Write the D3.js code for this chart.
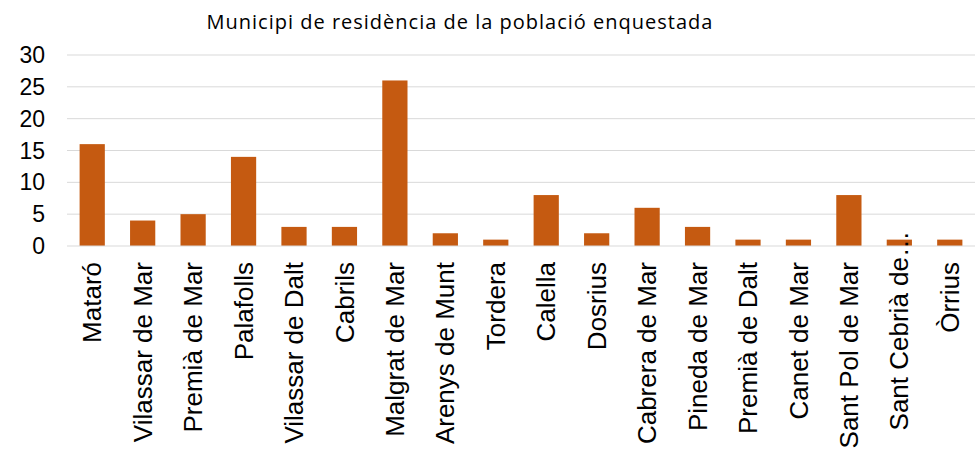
<!DOCTYPE html>
<html>
<head>
<meta charset="utf-8">
<script src="https://cdn.jsdelivr.net/npm/d3@7"></script>
<style>
  body { margin: 0; background: #fff; }
  svg { display: block; }
</style>
</head>
<body>
<div id="chart"></div>
<script>
const municipis = [
    "Mataró", "Vilassar de Mar", "Premià de Mar", "Palafolls", "Vilassar de Dalt",
    "Cabrils", "Malgrat de Mar", "Arenys de Munt", "Tordera", "Calella", "Dosrius",
    "Cabrera de Mar", "Pineda de Mar", "Premià de Dalt", "Canet de Mar",
    "Sant Pol de Mar", "Sant Cebrià de…", "Òrrius"
];
const respostes = [16, 4, 5, 14, 3, 3, 26, 2, 1, 8, 2, 6, 3, 1, 1, 8, 1, 1];
const yTicks = [0, 5, 10, 15, 20, 25, 30];

const width = 977, height = 462;
const margin = { top: 55, left: 67, right: 2, bottom: 216 };
const labelFont = "Liberation Sans, Arial, sans-serif";

const svg = d3.select("#chart")
    .append("svg")
    .attr("width", width)
    .attr("height", height);

const x = d3.scaleBand()
    .domain(municipis)
    .range([margin.left, width - margin.right])
    .paddingInner(0.5)
    .paddingOuter(0.25);

const y = d3.scaleLinear()
    .domain([0, 30])
    .range([height - margin.bottom, margin.top]);

// gridlines
svg.append("g")
    .selectAll("line")
    .data(yTicks.slice(1))
    .enter()
    .append("line")
    .attr("x1", margin.left)
    .attr("x2", width - margin.right)
    .attr("y1", (d) => y(d))
    .attr("y2", (d) => y(d))
    .attr("stroke", "#d9d9d9")
    .attr("stroke-width", 1);

// y labels
svg.append("g")
    .selectAll("text")
    .data(yTicks)
    .enter()
    .append("text")
    .attr("x", 45)
    .attr("y", (d) => y(d))
    .attr("dy", "0.35em")
    .attr("text-anchor", "end")
    .attr("font-family", labelFont)
    .attr("font-size", 23)
    .attr("fill", "#000")
    .text((d) => d);

// bars
svg.append("g")
    .selectAll("rect")
    .data(respostes)
    .enter()
    .append("rect")
    .attr("x", (d, i) => x(municipis[i]))
    .attr("y", (d) => y(d))
    .attr("width", x.bandwidth())
    .attr("height", (d) => y(0) - y(d))
    .attr("fill", "#c55a11");

// baseline
svg.append("line")
    .attr("x1", margin.left)
    .attr("x2", width - margin.right)
    .attr("y1", y(0))
    .attr("y2", y(0))
    .attr("stroke", "#d9d9d9")
    .attr("stroke-width", 1);

// truncated labels let the ellipsis hang over the axis, like excel does
const probe = svg.append("text")
    .attr("font-family", labelFont)
    .attr("font-size", 26)
    .text("…");
const ellipsisWidth = probe.node().getComputedTextLength();
probe.remove();

// x labels
svg.append("g")
    .selectAll("text")
    .data(municipis)
    .enter()
    .append("text")
    .attr("transform", (d) => {
        const shift = d.endsWith("…") ? ellipsisWidth + 5 : 0;
        return `translate(${x(d) + x.bandwidth() / 2}, ${y(0) + 16 - shift}) rotate(-90)`;
    })
    .attr("dy", "0.35em")
    .attr("text-anchor", "end")
    .attr("font-family", labelFont)
    .attr("font-size", 26)
    .attr("fill", "#000")
    .text((d) => d);

// title
svg.append("text")
    .attr("x", 460)
    .attr("y", 29)
    .attr("text-anchor", "middle")
    .attr("font-family", "Open Sans, sans-serif")
    .attr("font-size", 20)
    .attr("letter-spacing", 1)
    .attr("fill", "#000")
    .text("Municipi de residència de la població enquestada");
</script>
</body>
</html>
